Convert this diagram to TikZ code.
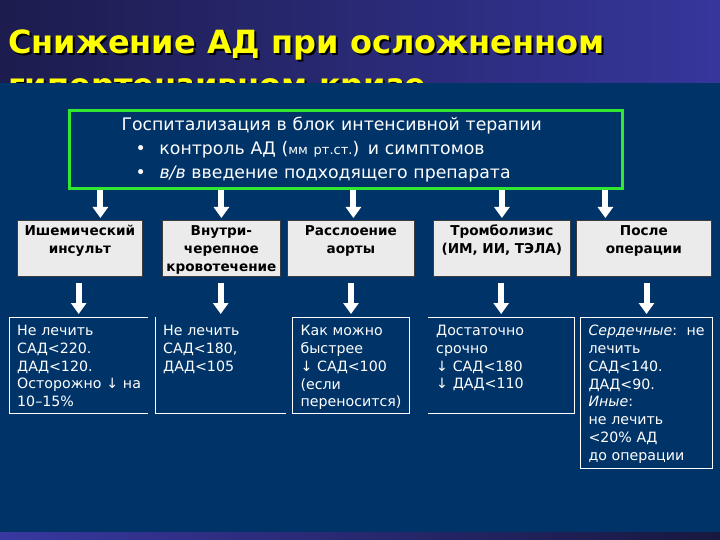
\documentclass[tikz,border=0pt]{standalone}
\usepackage{fontspec}
\setmainfont{DejaVu Sans}
\usetikzlibrary{arrows.meta,positioning}

\definecolor{bandleft}{RGB}{28,28,78}
\definecolor{bandright}{RGB}{54,54,156}
\definecolor{stripleft}{RGB}{56,56,160}
\definecolor{stripright}{RGB}{24,24,64}
\definecolor{panelblue}{RGB}{0,52,104}
\definecolor{hospgreen}{RGB}{48,232,48}
\definecolor{catfill}{RGB}{235,235,235}
\definecolor{catborder}{RGB}{60,60,60}
\definecolor{titleyellow}{RGB}{255,255,0}

\begin{document}
\begin{tikzpicture}[x=1pt, y=-1pt,
    titletext/.style={anchor=base west, inner sep=0pt, font=\fontsize{32}{40}\selectfont\bfseries},
    hospbox/.style={draw=hospgreen, line width=3pt, minimum width=553pt, minimum height=78pt, inner sep=0pt, text width=553pt, align=left, text=white, font=\fontsize{17.3}{24}\selectfont},
    catbox/.style={draw=catborder, line width=0.8pt, fill=catfill, anchor=north west, inner xsep=0pt, inner ysep=2pt, align=center, text height=13pt, text depth=39pt, font=\fontsize{13.6}{18}\selectfont\bfseries},
    notebox/.style={anchor=north west, inner xsep=8pt, inner ysep=3pt, align=left, text=white, text height=15.2pt, text depth=74.8pt, font=\fontsize{14.2}{17.8}\selectfont},
    noteline/.style={draw=white, line width=1pt},
    downarrow/.style={draw=white, line width=6pt, -{Triangle[width=15pt,length=11pt]}}]
    \useasboundingbox (0,0) rectangle (720,540);
    % Background: title band, panel, bottom strip
    \shade[left color=bandleft, right color=bandright] (0,0) rectangle (720,83);
    \begin{scope}
        \clip (0,0) rectangle (720,83);
        \node[titletext, text=black] (title1s) at (10,56) {Снижение АД при осложненном};
        \node[titletext, text=titleyellow] (title1) at (8,54) {Снижение АД при осложненном};
        \node[titletext, text=black] (title2s) at (10,99) {гипертензивном кризе};
        \node[titletext, text=titleyellow] (title2) at (8,97) {гипертензивном кризе};
    \end{scope}
    \fill[panelblue] (0,83) rectangle (720,532);
    \shade[left color=stripleft, right color=stripright] (0,532) rectangle (720,540);
    % Hospitalisation box
    \node[hospbox] (hosp) at (346,150) {\hspace*{52pt}Госпитализация в блок интенсивной терапии\\
        \hspace*{66pt}\makebox[24pt][l]{•}контроль АД ({\fontsize{13}{18}\selectfont мм рт.ст.}) и симптомов\\
        \hspace*{66pt}\makebox[24pt][l]{•}\textit{в/в} введение подходящего препарата};
    % Clinical situations
    \node[catbox, text width=125pt] (cat1) at (17,220) {Ишемический\\инсульт\\\mbox{}};
    \node[catbox, text width=118pt] (cat2) at (162,220) {Внутри-\\черепное\\кровотечение};
    \node[catbox, text width=127pt] (cat3) at (287,220) {Расслоение\\аорты\\\mbox{}};
    \node[catbox, text width=137pt] (cat4) at (433,220) {Тромболизис\\(ИМ, ИИ, ТЭЛА)\\\mbox{}};
    \node[catbox, text width=135pt] (cat5) at (576,220) {После\\операции\\\mbox{}};
    % Targets
    \node[notebox, text width=123pt] (note1) at (9,317) {Не~лечить\\САД<220.\\ДАД<120.\\Осторожно~↓~на\\10–15\%};
    \node[notebox, text width=115pt] (note2) at (155,317) {Не~лечить\\САД<180,\\ДАД<105};
    \node[notebox, noteline, text width=101pt] (note3) at (292,317) {Как~можно\\быстрее\\↓~САД<100\\(если\\переносится)};
    \node[notebox, text width=130pt] (note4) at (428,317) {Достаточно\\срочно\\↓~САД<180\\↓~ДАД<110};
    \node[notebox, noteline, text width=116pt, text depth=129.8pt] (note5) at (580,317) {\textit{Сердечные}:~~не\\лечить\\САД<140.\\ДАД<90.\\\textit{Иные}:\\не~лечить\\<20\%~АД\\до~операции};
    \draw[noteline] (note1.north east) -- (note1.north west) -- (note1.south west) -- (note1.south east);
    \draw[noteline] (note2.north west) -- (note2.south west) -- (note2.south east);
    \draw[noteline] (note4.north west) -- (note4.north east) -- (note4.south east) -- (note4.south west);
    % Arrows
    \draw[downarrow] ([xshift=20.5pt]hosp.south -| cat1.north) -- ([xshift=20.5pt, yshift=2pt]cat1.north);
    \draw[downarrow] (hosp.south -| cat2.north) -- ([yshift=2pt]cat2.north);
    \draw[downarrow] ([xshift=2.5pt]hosp.south -| cat3.north) -- ([xshift=2.5pt, yshift=2pt]cat3.north);
    \draw[downarrow] (hosp.south -| cat4.north) -- ([yshift=2pt]cat4.north);
    \draw[downarrow] ([xshift=-38.5pt]hosp.south -| cat5.north) -- ([xshift=-38.5pt, yshift=2pt]cat5.north);
    \draw[downarrow] ([yshift=-6pt]cat1.south -| note1.north) -- ([yshift=3pt]note1.north);
    \draw[downarrow] ([yshift=-6pt]cat2.south -| note2.north) -- ([yshift=3pt]note2.north);
    \draw[downarrow] ([yshift=-6pt]cat3.south -| note3.north) -- ([yshift=3pt]note3.north);
    \draw[downarrow] ([yshift=-6pt]cat4.south -| note4.north) -- ([yshift=3pt]note4.north);
    \draw[downarrow] ([yshift=-6pt]cat5.south -| note5.north) -- ([yshift=3pt]note5.north);
\end{tikzpicture}
\end{document}
